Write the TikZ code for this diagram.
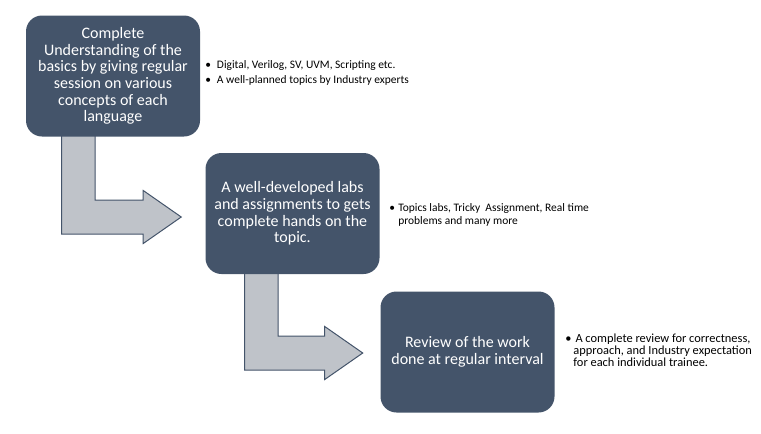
\documentclass[tikz,border=0pt]{standalone}
\usepackage{fontspec}
\setmainfont{Carlito}
\usetikzlibrary{calc,backgrounds}
\definecolor{khoixanh}{HTML}{44546A}
\definecolor{muixam}{HTML}{BFC3C9}
\begin{document}
\begin{tikzpicture}[x=0.75pt, y=-0.75pt, line join=miter,
	khoi/.style={rectangle, rounded corners=12pt, fill=khoixanh, text=white, align=center,
		minimum width=130.5pt, minimum height=90.75pt, inner sep=0pt,
		font=\fontsize{12}{12.5}\selectfont},
	muiten/.style={fill=muixam, draw=khoixanh, line width=0.75pt},
	ghichu/.style={anchor=west, inner sep=0pt, text=black}]
	\useasboundingbox (0,0) rectangle (761,433);
	\def\ds{33.5} % shaft width
	\def\dd{38} % head length
	\def\nd{26.5} % half head
	\def\nt{17} % half shaft
	% the three steps
	\node[khoi] (b1) at (113,76) {Complete\\Understanding of the\\basics by giving regular\\session on various\\concepts of each\\language};
	\node[khoi] (b2) at (292.5,213.5) {A well-developed labs\\and assignments to gets\\complete hands on the\\topic.};
	\node[khoi] (b3) at (467.5,352) {Review of the work\\done at regular interval};
	% bent arrows
	\coordinate (a1) at ($(b1.south west)+(36,-10)$);
	\coordinate (t1) at ($(b2.west)+(-24,3.5)$);
	\coordinate (a2) at ($(b2.south west)+(39.5,-10)$);
	\coordinate (t2) at ($(b3.west)+(-17.5,1)$);
	\begin{scope}[on background layer]
		\foreach \a/\t in {a1/t1,a2/t2}
		\draw[muiten] (\a) -- ++(\ds,0) |- ($(\t)+(-\dd,-\nt)$) -- ++(0,\nt-\nd) -- (\t) -- ++(-\dd,\nd) -- ++(0,\nt-\nd) -| (\a) -- cycle;
	\end{scope}
	% notes
	\node[ghichu] (n1) at (205,72.5) {\fontsize{8.6}{11.25}\selectfont\begin{tabular}{@{}l@{\hspace{4.5pt}}l@{}}
		\textbullet & Digital, Verilog, SV, UVM, Scripting etc.\\
		\textbullet & A well-planned topics by Industry experts
	\end{tabular}};
	\node[ghichu] (n2) at (389,215) {\fontsize{8.6}{9.9}\selectfont\begin{tabular}{@{}l@{\hspace{2.5pt}}l@{}}
		\textbullet & Topics labs, Tricky~ Assignment, Real time\\
		& problems and many more
	\end{tabular}};
	\node[ghichu] (n3) at (565,352) {\fontsize{9.3}{9.3}\selectfont\begin{tabular}{@{}l@{\hspace{1.5pt}}l@{}}
		\textbullet & \,A complete review for correctness,\\
		& approach, and Industry expectation\\
		& for each individual trainee.
	\end{tabular}};
\end{tikzpicture}
\end{document}
